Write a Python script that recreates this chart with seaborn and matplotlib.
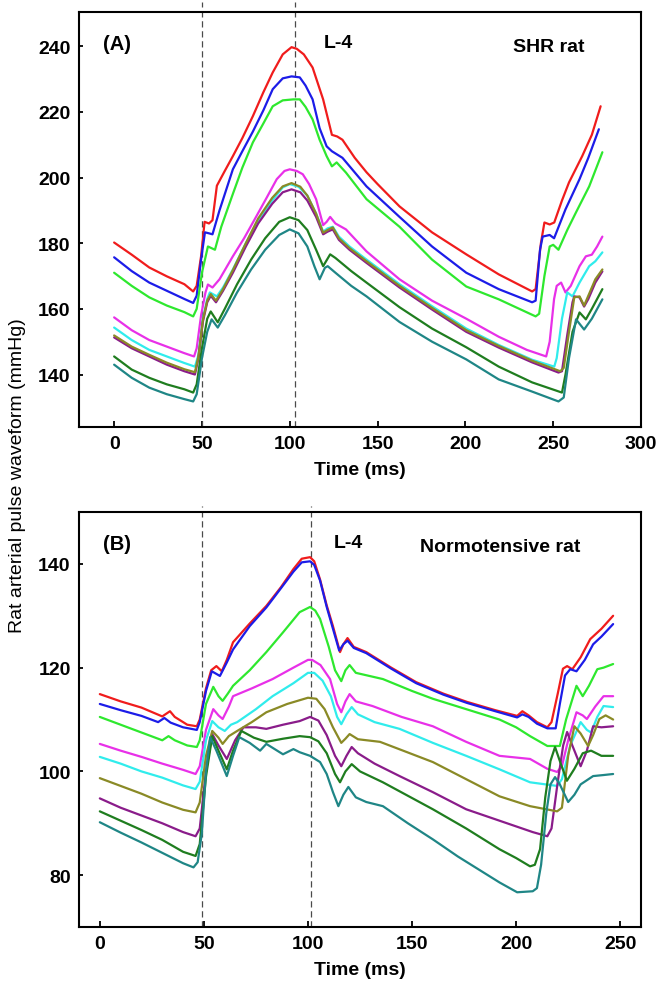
import numpy as np
import pandas as pd
import matplotlib
matplotlib.use("Agg")
import matplotlib.pyplot as plt
import seaborn as sns

# ---------------- data (t in ms, p in mmHg) ----------------
series_names = ["red", "blue", "green", "magenta", "cyan", "purple", "olive", "dkgreen", "teal"]
colors = {"red": "#f01c1c", "blue": "#1c1ce8", "green": "#2ee82e", "magenta": "#e830e8",
          "cyan": "#30ecec", "olive": "#8a8a26", "purple": "#8a1c8a", "dkgreen": "#1f7d1f",
          "teal": "#1f8686"}

# Panel A: SHR rat
shr_red = [(0,180.2),(10,176.5),(20,172.6),(30,169.9),(40,167.5),(45,165.3),(47,167),(49.5,176),(51.5,186.5),
           (54,186),(56,187),(58.5,197.5),(63,202),(67.6,206.5),(73,212),(79,218.7),(85,226),(90.3,232),
           (96,237.5),(101,239.7),(104,239.2),(108,237.5),(113,233.5),(119,223.8),(124,213),(127,212.5),
           (130,211.5),(137,206),(143.7,201.6),(150,198),(162.5,191.2),(181,183.3),(200.5,176.6),(219,170.5),
           (238,165.3),(240,166),(243,180),(245,186.3),(248,185.7),(250.6,186.3),(255,193),(259,198.5),
           (266.5,206.5),(272,213),(277,221.7)]
shr_blue = [(0,175.7),(10,171.5),(20,168),(30,165.5),(40,163),(45,161.8),(47,164),(49.5,175),(51.7,183.3),
            (54,183),(56,182.7),(60,190),(67.6,202.5),(73,208),(79,214),(85,220.5),(90.3,226.9),(96,230.2),
            (101,230.8),(105.7,230.5),(109,228),(113,223.8),(117,215),(121,209.5),(124,208),(130,206),
            (143.7,197.3),(162.5,188),(181,179),(200.5,171),(219,166),(238,162),(240,162.5),(242.5,178),
            (244,182),(248,182.5),(250.5,181.5),(257,190.3),(265,199.5),(270,206),(276,214.7)]
shr_green = [(0,171),(10,167),(20,163.5),(30,161),(40,159),(45,157.7),(47,160),(50,171),(53.4,179),(57.4,178),
             (61,185),(67.6,195),(73,203),(79,210.7),(85,216.5),(90.3,221.7),(96,223.5),(102,223.8),
             (105.7,223.8),(109,221.5),(113,217.7),(117,211.5),(121,206.5),(124,203.4),(126.7,204.6),
             (132,201.5),(143.7,193.4),(162.5,185),(181,175),(200.5,166.8),(219,162.9),(240,157.7),(242,158.5),
             (245,170),(248,179),(250,179.5),(253,178),(258,184),(263,189.4),(270.5,197.3),(278,207.7)]
shr_magenta = [(0,157.4),(10,153.5),(20,150.5),(30,148.5),(40,146.5),(45.5,145.5),(47,148),(49.5,158),(52,165),
               (53.4,167.4),(56,166.5),(60,169),(67.6,176),(74,181.5),(81,188.2),(87,194),(92.6,199.5),(97,202),
               (100,202.5),(104,202),(107.4,201),(111,198),(115,193.4),(119,185.5),(121,186.5),(123,188),
               (126,186),(132,184.2),(143.7,177.5),(162.5,169),(181,162.5),(200.5,157),(219,151.5),(235,147.5),
               (246,145.5),(248,150),(250.5,163),(252,167),(254.5,168),(257,165),(260,167),(265,173),
               (268.6,176),(272,176.5),(275,179),(278,182)]
shr_cyan = [(0,154.3),(10,150.5),(20,147.5),(30,145.5),(40,143.5),(46,142.4),(48,146),(50.5,157),(53,163),
            (54.5,165),(58.5,163.8),(62,166.5),(67.6,172),(75,180),(82,187),(90,193),(96,197),(100,198),
            (105,197.2),(110,194.5),(115,189),(119,183.5),(121.5,184.5),(124.5,185),(128,182),(134,179),
            (143.7,175),(162.5,167.5),(181,160.8),(200.5,154),(219,149),(238,144.5),(250.6,142.4),(252,145),
            (255,157),(258,165),(261,163.8),(265,168),(270.5,173),(274,174.5),(278,177.2)]
shr_purple = [(0,151.3),(10,148),(20,145.5),(30,143),(40,141),(46,140),(48,145),(50.5,156),(53,162),(55,164),
              (58,162),(62,165.5),(67.6,171),(75,179),(82,186),(90,192),(96,195.5),(101,196.4),(106,195.5),
              (110,193),(115,188),(119,182.7),(121.5,183.5),(124.5,184.2),(128,181),(134,178),(143.7,174),
              (162.5,166.5),(181,159.8),(200.5,153),(219,148.2),(238,143.7),(253,140.6),(255,141),(258,152),
              (261,162),(262,163.8),(265,163.5),(267.6,160.7),(270,163),(274,168),(278,171.4)]
shr_olive = [(0,151.9),(10,148.5),(20,146),(30,143.6),(40,141.6),(46,140.7),(48,145.5),(50.5,156.5),(53,162.5),
             (55,164.5),(58,162.5),(62,166),(67.6,171.8),(75,180),(82,187.5),(90,193.8),(96,197.3),(101,198.3),
             (106,197.2),(110,194.5),(115,189),(119,183.2),(121.5,184),(124.5,184.8),(128,181.5),(134,178.5),
             (143.7,174.5),(162.5,167),(181,160.3),(200.5,153.5),(219,148.7),(238,144.2),(254,141),(256,142),
             (259,153),(262,163.5),(265,163.8),(267.6,161),(270,164),(274,169),(278,172)]
shr_dkgreen = [(0,145.5),(10,141.5),(20,139),(30,137),(40,135.5),(45,134.5),(47,137),(50,148),(53,157),
               (55,159.2),(59,155.9),(63,160),(70,167.5),(78,175),(86,181.5),(94,186.5),(100,187.9),(105,187),
               (110,184),(115,178),(119,173),(123,176.6),(126,175.5),(135,171.5),(143.7,168),(162.5,160.5),
               (181,154),(200.5,148.3),(219,142.4),(238,137.6),(255,134.5),(257,140),(261,153),(265,158.9),
               (268.6,156.8),(272,160),(278,166)]
shr_teal = [(0,143),(10,139),(20,136),(30,134),(40,132.5),(45,131.8),(47,134),(50,145),(53,153),(55.5,156.8),
            (59,154.3),(63,158),(70,165),(78,172),(86,178),(94,182.5),(100,184.2),(105,183),(110,179),(114,173),
            (117,169),(120,172.5),(121.6,173),(126,171),(135,167),(143.7,163.8),(162.5,156),(181,150),
            (200.5,144.6),(219,138.5),(238,134.8),(253,131.8),(256,133),(259,145),(263,156.8),(267.6,153.7),
            (272,157),(278,162.9)]

# Panel B: Normotensive rat
nt_red = [(0,114.9),(10,113.5),(20,112.3),(30,110.6),(33.7,111.6),(36,110.5),(42,109),(46.6,108.7),(48,110),
          (51,116),(53.5,119.5),(56,120.3),(58.6,119.3),(61,121.5),(64,124.9),(72,128.5),(80,131.9),(87,135.5),
          (93,139),(97,141),(101,141.3),(103,140.5),(105.8,137),(109,132),(112,128),(115.4,123),(117,124.5),
          (119,125.7),(122,124),(128,123),(140,120),(152,117.2),(165,115),(176.4,113.4),(190,111.8),
          (200.5,110.7),(203,111.6),(206,110.8),(210,109.5),(215,108.5),(217,109.5),(220,115),(222.5,119.8),
          (224.5,120.3),(227,119.7),(231,122),(235.6,125.5),(241,127.5),(246.6,130)]
nt_blue = [(0,113),(10,111.8),(20,110.7),(28,109.5),(31,110.3),(34,109.4),(40,108.5),(46.6,108),(48,109.5),
           (51,115.5),(53.8,119.3),(57.7,118.4),(61,121),(64,123.5),(72,128),(80,131.6),(87,135.3),(93,138.5),
           (97,140.3),(101,140.5),(103,139.8),(105.8,136.8),(109,131.7),(112,127.5),(115,123.3),(117,124.5),
           (119,125.2),(122,123.8),(128,122.8),(140,119.8),(152,117),(165,114.8),(176.4,113.2),(190,111.6),
           (200.5,110.4),(203,111),(206,110.5),(210,109.2),(215,108.3),(219,108.3),(221,113),(223.5,118.5),
           (226,119.7),(229,119.3),(233,121.5),(237,124.5),(241,126),(246.6,128.4)]
nt_green = [(0,110.5),(10,109),(20,107.5),(30,106),(33,106.8),(36,106),(42,105),(46.6,104.7),(48,106),(51,113),
            (54.5,116.3),(57,114.5),(59,113.6),(61.5,115),(64,116.5),(72,119.5),(80,123),(88,126.8),(96,130.7),
            (101,131.7),(103.5,131),(105.8,129.4),(110,124),(113,119.5),(116,117.4),(118,119.5),(120,120.5),
            (123,119),(136,117.8),(150,115.5),(160,114),(176,112),(192,110),(200,108.5),(206.7,106.8),
            (215,104.9),(221,104.9),(224,110),(229,116.5),(232,114.5),(235,116.5),(239,119.7),(242,120),
            (246.6,120.7)]
nt_magenta = [(0,105.3),(10,104),(20,102.8),(30,101.5),(40,100.3),(46,99.5),(48,101),(51,108),(54.5,112),
              (57,110.8),(59,110.1),(62,112.5),(64,114.5),(73,116),(83,117.8),(93,120),(100,121.5),(102,121.5),
              (106,120.5),(110.6,117.8),(114,113),(116,111.4),(118,113.5),(120,114.9),(123,113.5),(131,112.6),
              (145,110.5),(160,108.7),(176,105.7),(192,103),(206.7,102.4),(215,100.5),(219.7,99.9),(222,101),
              (225,106),(229,111.4),(232,110.8),(234,110.1),(238,112.5),(242,114.5),(246.6,114.5)]
nt_cyan = [(0,102.8),(10,101.5),(20,100),(30,98.8),(40,97.3),(46,96.6),(48,98),(51,106),(54,109.7),(57,108.5),
           (60,107.8),(63,109),(66,109.5),(75,112),(83,114.5),(93,117),(100,119),(103,119),(107,117.5),
           (111,114.5),(114,110.5),(116,109.1),(118.5,111),(121,112.4),(124,111),(132,109.5),(144,108.2),
           (160,105.5),(176,103),(192,100.4),(206.7,97.9),(219.7,97.2),(222,98.5),(226,105),(231,109.5),
           (234,108),(236,107.5),(239,110.5),(242,112.6),(246.6,112.4)]
nt_purple = [(0,94.8),(10,93),(20,91.5),(30,90),(40,88.3),(46,87.5),(48,89),(51,100),(54,107.2),(57,105),
             (61,102.4),(65,106),(69,108.5),(75,108.5),(80,108.2),(88,109),(96,109.7),(101,110.5),(105,109.8),
             (109,107),(113,103),(116,101),(118.5,103),(121,104.7),(124,103.5),(132,101.5),(144,99.1),(160,96),
             (176,92.7),(192,90.5),(208,88.3),(215,87.5),(217,89),(220,98),(222.6,105),(224.5,107.6),(227,105),
             (231,101),(234,104),(237,108.7),(241,108.5),(246.6,108.7)]
nt_olive = [(0,98.7),(10,97.2),(20,95.7),(30,94),(40,92.6),(46,92.1),(48,94),(51,103),(54,107.8),(57,106.5),
            (59,105.3),(62,106.8),(66,107.8),(73,109.5),(80,111.4),(90,113),(100,114.2),(104,114),(108,112),
            (112,108.5),(116,105.5),(118,106.3),(120,107.2),(124,106.2),(134.6,105.7),(147,103.8),(160,101.8),
            (176,98.5),(192,95.2),(206.7,93.3),(219.7,92.3),(222,93),(225,103),(228,108.7),(231,107.3),
            (234.6,104.9),(237,107),(240,110.1),(243,110.8),(246.6,110)]
nt_dkgreen = [(0,92.3),(10,90.5),(20,88.7),(30,86.8),(40,84.5),(46,83.7),(48,86),(51,99),(54,106.8),(57,104),
              (61,100.4),(64,104),(68,107.8),(74,106.5),(80,105.7),(88,106.3),(96,106.8),(101,106.6),(105,105.8),
              (109,103.5),(113,99.5),(115.4,97.9),(118,100),(121,101.4),(125,100),(136,97.9),(148,95.3),
              (160,92.7),(176,89),(192,85),(200,83.3),(206.7,81.7),(209,82),(211.5,85),(214,95),(216.5,102),
              (218.7,104.7),(221,102),(224.4,98.2),(228,100.5),(232,103.5),(236,104),(241,103),(246.6,103)]
nt_teal = [(0,90.2),(10,88.2),(20,86.3),(30,84.3),(40,82.3),(45,81.5),(47,82.5),(49,88),(51,100),(53,106.6),
           (56,104),(61,99.1),(64,103),(67,106.6),(72,105.5),(77,104),(80,105.3),(84,104.3),(88,103.3),
           (93,104.3),(96,103.7),(101,103),(105.8,101.8),(109,99.5),(112,96),(114.6,93.3),(117,95.5),(119.4,97),
           (123,95),(128,94.1),(136,93.3),(148,90),(160,86.9),(172,83.6),(184,80.6),(192,78.6),(200.5,76.7),
           (208,76.9),(210,77.5),(212,82),(214.5,92),(216.5,97.5),(218.7,98.9),(221,97.5),(225,94.1),(228,95.5),
           (231,97.5),(237,99.1),(242,99.3),(246.6,99.5)]

shr_curves = [shr_red, shr_blue, shr_green, shr_magenta, shr_cyan, shr_purple, shr_olive, shr_dkgreen, shr_teal]
nt_curves = [nt_red, nt_blue, nt_green, nt_magenta, nt_cyan, nt_purple, nt_olive, nt_dkgreen, nt_teal]

shr_markers = [50, 103]
nt_markers = [49, 101.3]

shr_xticks = [0, 50, 100, 150, 200, 250, 300]
shr_yticks = [140, 160, 180, 200, 220, 240]
nt_xticks = [0, 50, 100, 150, 200, 250]
nt_yticks = [80, 100, 120, 140]


def to_frame(curves):
    rows = []
    for name, pts in zip(series_names, curves):
        for t, p in pts:
            rows.append({"t": t, "p": p, "series": name})
    return pd.DataFrame(rows)


sns.set_style("ticks")
FONT = ["Liberation Sans", "DejaVu Sans"]
plt.rcParams["font.family"] = FONT
plt.rcParams["text.color"] = "black"
plt.rcParams["axes.labelcolor"] = "black"
plt.rcParams["xtick.color"] = "black"
plt.rcParams["ytick.color"] = "black"
plt.rcParams["axes.edgecolor"] = "black"

fig = plt.figure(figsize=(6.59, 9.95), dpi=100)
axA = fig.add_axes([0.1199, 0.5698, 0.8528, 0.4171])
axB = fig.add_axes([0.1199, 0.0673, 0.8528, 0.4171])


def draw(ax, curves, markers, xlim, ylim, xticks, yticks, label, title, l4x, ext):
    df = to_frame(curves)
    sns.lineplot(data=df, x="t", y="p", hue="series", hue_order=series_names, palette=colors,
                 estimator=None, sort=True, legend=False, linewidth=1.6, ax=ax)
    for m in markers:
        ax.axvline(m, ymin=0, ymax=ext, color="#4a4a4a", lw=0.9, linestyle=(0, (5, 3)),
                   clip_on=False, zorder=1)
    ax.set_xlim(*xlim)
    ax.set_ylim(*ylim)
    ax.set_xticks(xticks)
    ax.set_yticks(yticks)
    for s in ax.spines.values():
        s.set_visible(True)
        s.set_linewidth(1.5)
        s.set_color("black")
    ax.tick_params(axis="both", direction="in", width=1.3, length=4, labelsize=14, pad=6,
                   colors="black")
    ax.tick_params(axis="y", length=3)
    for lab in ax.get_xticklabels() + ax.get_yticklabels():
        lab.set_fontweight("bold")
        lab.set_family(FONT)
    ax.set_xlabel("Time (ms)", fontsize=14, fontweight="bold", labelpad=6, color="black")
    ax.set_ylabel("")
    ax.text(0.0676, 0.925, label, transform=ax.transAxes, fontsize=14.5, fontweight="bold",
            ha="center", va="center", color="black")
    ax.text(l4x, 0.926, "L-4", transform=ax.transAxes, fontsize=14, fontweight="bold",
            ha="center", va="center", color="black")
    ax.text(title[1], title[2], title[0], transform=ax.transAxes, fontsize=14, fontweight="bold",
            ha="center", va="center", color="black")


draw(axA, shr_curves, shr_markers, (-20, 300), (124, 250.4), shr_xticks, shr_yticks,
     "(A)", ("SHR rat", 0.836, 0.916), 0.461, 1.024)
draw(axB, nt_curves, nt_markers, (-10, 260), (70, 150), nt_xticks, nt_yticks,
     "(B)", ("Normotensive rat", 0.749, 0.918), 0.480, 1.0145)

fig.text(0.027, 0.5216, "Rat arterial pulse waveform (mmHg)", rotation=90, ha="center", va="center",
         fontsize=14, color="black")

fig.savefig("out.png", dpi=100)
